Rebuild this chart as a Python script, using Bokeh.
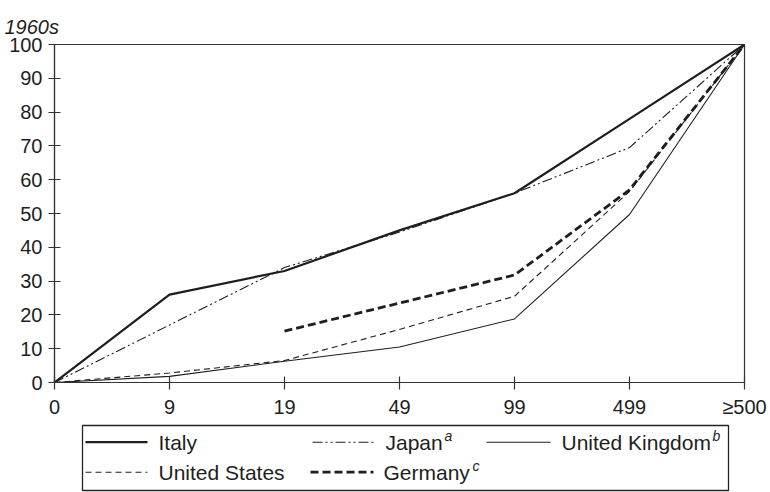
from bokeh.plotting import figure
from bokeh.models import Range1d, FixedTicker
from bokeh.layouts import column
from bokeh.core.properties import value
from bokeh.embed import file_html
from bokeh.resources import INLINE

# Cumulative share (%) by size class, 1960s
size_labels = ["0", "9", "19", "49", "99", "499", "\u2265500"]
italy = [0, 26, 33, 45, 56, 78, 100]
japan = [0, 17, 34, 44.5, 56, 69.5, 100]
united_kingdom = [0, 1.8, 6.3, 10.5, 18.8, 49.7, 100]
united_states = [0, 2.8, 6.5, 15.7, 25.5, 56.5, 100]
germany = [float("nan"), float("nan"), 15.2, 23.5, 31.8, 57, 100]

FONT = "Liberation Sans"
INK = "#1e1e1e"

xs = list(range(len(size_labels)))

p = figure(width=770, height=420, x_range=Range1d(0, 6), y_range=Range1d(0, 100),
           output_backend="svg", toolbar_location=None,
           min_border_left=54, min_border_right=26, min_border_top=44, min_border_bottom=37)
p.grid.visible = False
p.outline_line_color = "#333333"
p.outline_line_width = 1.2
p.background_fill_color = "white"
p.border_fill_color = "white"

# Period heading in the top-left corner
p.title.text = "1960s"
p.title.text_font = FONT
p.title.text_font_style = "italic"
p.title.text_font_size = "20px"
p.title.text_color = INK
p.title.align = "left"
p.title.vertical_align = "top"
p.title.offset = -50

for ax in (p.xaxis[0], p.yaxis[0]):
    ax.axis_line_color = "#333333"
    ax.axis_line_width = 1.2
    ax.major_tick_line_color = "#333333"
    ax.major_tick_line_width = 1.2
    ax.minor_tick_line_color = None
    ax.major_label_text_font = FONT
    ax.major_label_text_font_size = "20px"
    ax.major_label_text_color = INK

p.xaxis.ticker = FixedTicker(ticks=xs)
p.xaxis.major_label_overrides = {i: s for i, s in enumerate(size_labels)}
p.xaxis.major_tick_out = 7
p.xaxis.major_tick_in = 6
p.xaxis.major_label_standoff = 6

p.yaxis.ticker = FixedTicker(ticks=list(range(0, 101, 10)))
p.yaxis.major_tick_out = 6
p.yaxis.major_tick_in = 6
p.yaxis.major_label_standoff = 6

styles = {
    "Italy": dict(line_width=2.2, line_dash="solid"),
    "Japan": dict(line_width=1.1, line_dash="10 3 2 3 2 3"),
    "United Kingdom": dict(line_width=1.1, line_dash="solid"),
    "United States": dict(line_width=1.1, line_dash="6 4"),
    "Germany": dict(line_width=2.8, line_dash="8 4"),
}

series = [("Italy", italy), ("Japan", japan), ("United Kingdom", united_kingdom),
          ("United States", united_states), ("Germany", germany)]
for name, ys in series:
    p.line(xs, ys, line_color=INK, **styles[name])

# Legend panel below the chart; its frame spans the same columns as the
# chart's frame and the range equals pixel positions on the page
lg = figure(width=770, height=72, x_range=Range1d(54, 744), y_range=Range1d(72, 0),
            output_backend="svg", toolbar_location=None,
            min_border_left=54, min_border_right=26, min_border_top=0, min_border_bottom=0,
            x_axis_location=None, y_axis_location=None)
lg.grid.visible = False
lg.outline_line_color = None
lg.quad(left=[82], right=[728], top=[5], bottom=[70], fill_color=None,
        line_color="#222222", line_width=1.3)

legend_items = [
    # name, superscript, line x0, line x1, text x, row y, superscript x
    ("Italy", "", 85, 147, 158, 21.7, 0),
    ("Japan", "a", 312, 375, 385, 21.7, 444),
    ("United Kingdom", "b", 486, 550, 561, 21.7, 712),
    ("United States", "", 85, 147, 158, 51.7, 0),
    ("Germany", "c", 310, 373, 383, 51.7, 472),
]
for name, sup, x0, x1, tx, ry, sx in legend_items:
    lg.line([x0, x1], [ry, ry], line_color=INK, **styles[name])
    lg.text(x=[tx], y=[ry], text=[name], text_font=value(FONT), text_font_size="21px",
            text_color=INK, text_baseline="middle", text_align="left")
    if sup:
        lg.text(x=[sx], y=[ry - 6], text=[sup], text_font=value(FONT), text_font_size="14px",
                text_font_style="italic", text_color=INK, text_baseline="middle",
                text_align="left")

layout = column(p, lg)
open("out.html", "w").write(file_html(layout, INLINE))
